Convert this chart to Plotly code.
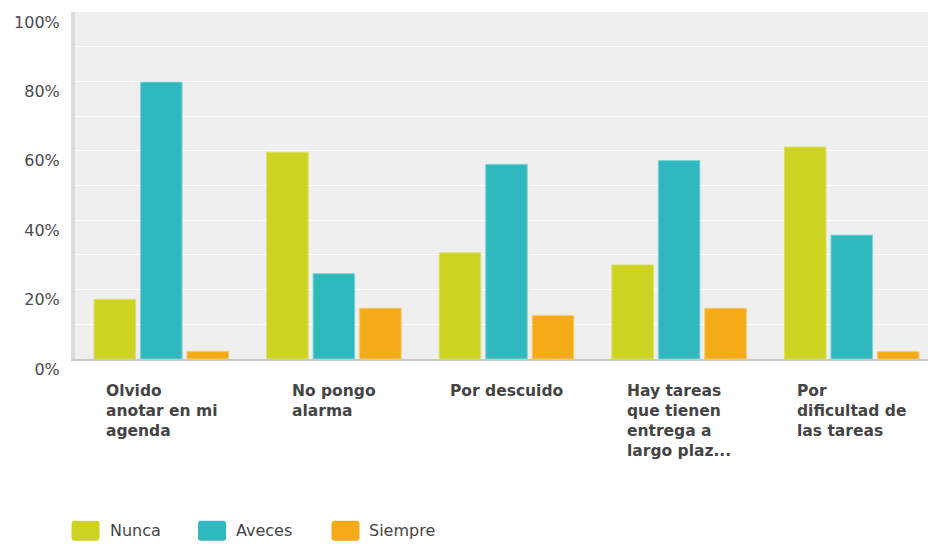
import plotly.graph_objects as go

# Survey answers: share of respondents per reason (percent)
categories = [
    "Olvido<br>anotar en mi<br>agenda",
    "No pongo<br>alarma",
    "Por descuido",
    "Hay tareas<br>que tienen<br>entrega a<br>largo plaz...",
    "Por<br>dificultad de<br>las tareas",
]
series_names = ["Nunca", "Aveces", "Siempre"]
nunca = [17.2, 59.6, 30.6, 27.1, 61.1]
aveces = [79.8, 24.6, 56.1, 57.2, 35.7]
siempre = [2.2, 14.6, 12.5, 14.6, 2.1]
y_ticks = [0, 20, 40, 60, 80, 100]
y_tick_text = ["0%", "20%", "40%", "60%", "80%", "100%"]

colors = ["#cdd321", "#2fb9be", "#f5ab17"]
edge_colors = ["#dbe06a", "#7fd2d6", "#f8c868"]
text_color = "#444444"
font_family = "DejaVu Sans"

W, H = 928, 544
M_L, M_R, M_T, M_B = 75, 0, 12, 185
PLOT_W = W - M_L - M_R
PLOT_H = H - M_T - M_B

def paper_x(px):
    return (px - M_L) / PLOT_W

def paper_y(py):
    return (H - M_B - py) / PLOT_H

x_idx = list(range(len(categories)))

fig = go.Figure()
for name, vals, col, edge in zip(series_names, [nunca, aveces, siempre], colors, edge_colors):
    fig.add_trace(go.Bar(
        x=x_idx, y=vals, name=name,
        marker=dict(color=col, line=dict(color=edge, width=1)),
        showlegend=False,
    ))

# Category labels: block centred under each group, lines left-aligned
annotations = []
for i, lab in enumerate(categories):
    annotations.append(dict(
        x=i, y=paper_y(380), xref="x", yref="paper",
        text="<b>" + lab + "</b>", showarrow=False,
        xanchor="center", yanchor="top", align="left",
        font=dict(family=font_family, size=15.5, color=text_color),
    ))

# Legend row along the bottom
legend_items = [(85.5, 108.0), (212.0, 233.5), (345.5, 367.0)]
legend_y = 530.7
shapes = []
r = 3
hw, hh = 14, 10
rounded = (
    f"M {-hw + r},{-hh} L {hw - r},{-hh} Q {hw},{-hh} {hw},{-hh + r} "
    f"L {hw},{hh - r} Q {hw},{hh} {hw - r},{hh} L {-hw + r},{hh} "
    f"Q {-hw},{hh} {-hw},{hh - r} L {-hw},{-hh + r} Q {-hw},{-hh} {-hw + r},{-hh} Z"
)
for (cx, tx), name, col in zip(legend_items, series_names, colors):
    shapes.append(dict(
        type="path", xref="paper", yref="paper",
        xsizemode="pixel", ysizemode="pixel",
        xanchor=paper_x(cx), yanchor=paper_y(legend_y),
        path=rounded, fillcolor=col, line=dict(width=0),
    ))
    annotations.append(dict(
        x=paper_x(tx), y=paper_y(legend_y), xref="paper", yref="paper",
        text=name, showarrow=False, xanchor="left", yanchor="middle",
        font=dict(family=font_family, size=16, color=text_color),
    ))

fig.update_layout(
    width=W, height=H,
    margin=dict(l=M_L, r=M_R, t=M_T, b=M_B, pad=0),
    paper_bgcolor="white",
    plot_bgcolor="#efefef",
    barmode="group",
    bargap=0.192,
    bargroupgap=0.107,
    font=dict(family=font_family, color=text_color),
    xaxis=dict(
        range=[-0.5, -0.5 + PLOT_W / 172.6],
        showticklabels=False, showgrid=False, zeroline=False,
        showline=True, linecolor="#c8c8c8", linewidth=2,
        ticks="", fixedrange=True,
    ),
    yaxis=dict(
        range=[0, 100],
        tickvals=y_ticks, ticktext=y_tick_text,
        showgrid=True, gridcolor="white", gridwidth=1.3,
        minor=dict(dtick=10, showgrid=True, gridcolor="white", gridwidth=1.3),
        zeroline=False,
        showline=True, linecolor="#dcdcdc", linewidth=4,
        ticks="", ticklabelstandoff=8, ticklabelshift=10,
        tickfont=dict(family=font_family, size=16, color="#4a4a4a"),
    ),
    shapes=shapes,
    annotations=annotations,
)

fig.write_html("out.html")
